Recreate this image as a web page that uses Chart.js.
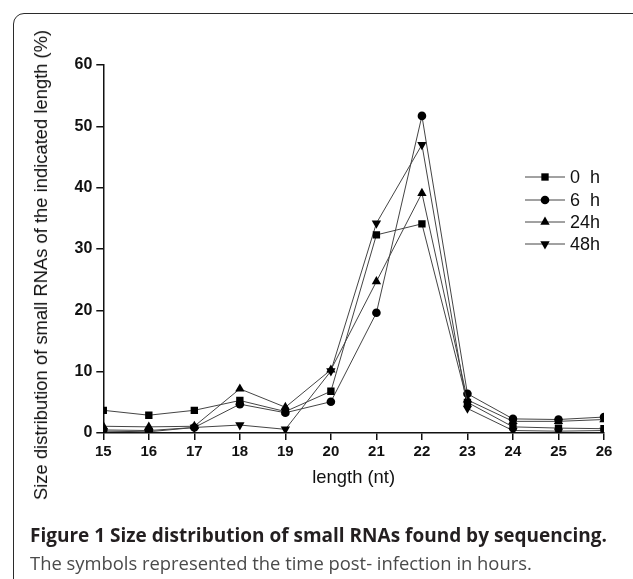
<!DOCTYPE html>
<html>
<head>
<meta charset="utf-8">
<script src="https://cdn.jsdelivr.net/npm/chart.js@4.4.1/dist/chart.umd.min.js"></script>
<style>
  html, body { margin: 0; padding: 0; background: #fff; }
  body { width: 633px; height: 579px; position: relative; overflow: hidden; }
  #frame {
    position: absolute; left: 13px; top: 13px; width: 640px; height: 600px;
    border: 1.5px solid #2b2b2b; border-radius: 11px; box-sizing: border-box;
  }
  #wrap { position: absolute; left: 0; top: 0; width: 633px; height: 579px; }
  #ytitle {
    position: absolute; left: 41px; top: 265px;
    transform: translate(-50%, -50%) rotate(-90deg);
    white-space: nowrap; font: 18.4px "Liberation Sans", Arial, sans-serif; color: #111;
  }
  .cap { position: absolute; left: 30px; white-space: nowrap; font-family: "Open Sans", sans-serif; line-height: 1.362; }
  #cap1 { top: 523px; font-size: 19px; font-weight: 700; color: #231f20; }
  #cap2 { top: 550px; font-size: 18.4px; color: #4a4a4a; }
</style>
</head>
<body>
<div id="frame"></div>
<div id="wrap"><canvas id="chart"></canvas></div>
<div id="ytitle">Size distribution of small RNAs of the indicated length (%)</div>
<div class="cap" id="cap1">Figure 1 Size distribution of small RNAs found by sequencing.</div>
<div class="cap" id="cap2">The symbols represented the time post- infection in hours.</div>
<script>
// ---------- données ----------
const lengths = [15, 16, 17, 18, 19, 20, 21, 22, 23, 24, 25, 26];
const h0  = [3.7, 2.9, 3.7, 5.3, 3.5, 6.8, 32.3, 34.1, 5.0, 1.0, 0.8, 0.7];
const h6  = [0.5, 0.4, 0.9, 4.7, 3.3, 5.1, 19.6, 51.7, 6.4, 2.3, 2.2, 2.6];
const h24 = [1.1, 1.0, 1.1, 7.2, 4.2, 10.3, 24.7, 39.1, 5.4, 1.9, 1.9, 2.2];
const h48 = [0.3, 0.2, 0.9, 1.3, 0.6, 10.1, 34.2, 47.0, 4.0, 0.4, 0.3, 0.4];
const seriesLabels = ['0  h', '6  h', '24h', '48h'];
const yTicks = [0, 10, 20, 30, 40, 50, 60];

const toPts = arr => arr.map((v, i) => ({ x: lengths[i], y: v }));

// style de chaque série
function serie(label, data, style, radius, rot) {
  return {
    label: label,
    data: toPts(data),
    borderColor: '#444',
    borderWidth: 1,
    pointStyle: style,
    pointRadius: radius,
    pointRotation: rot || 0,
    pointBackgroundColor: '#000',
    pointBorderColor: '#000',
    pointBorderWidth: 0,
    tension: 0
  };
}

// légende dessinée à la main : trait + symbole + texte
const legendLines = {
  id: 'legendLines',
  afterDraw(chart) {
    const ctx = chart.ctx;
    const rows = [177, 200, 222, 244];
    ctx.save();
    chart.data.datasets.forEach((ds, i) => {
      const y = rows[i];
      ctx.strokeStyle = '#444';
      ctx.lineWidth = 1;
      ctx.beginPath();
      ctx.moveTo(525, y);
      ctx.lineTo(565, y);
      ctx.stroke();
      ctx.fillStyle = '#000';
      ctx.strokeStyle = '#000';
      Chart.helpers.drawPoint(ctx, {
        pointStyle: ds.pointStyle, radius: ds.pointRadius, rotation: ds.pointRotation, borderWidth: 0
      }, 545, y);
      ctx.fillStyle = '#111';
      ctx.font = '18px "Liberation Sans", Arial, sans-serif';
      ctx.textBaseline = 'middle';
      ctx.textAlign = 'left';
      ctx.fillText(ds.label.replace(/ /g, '\u00a0'), 570, y + 1);
    });
    ctx.restore();
  }
};

new Chart(document.getElementById('chart'), {
  type: 'line',
  data: {
    datasets: [
      serie(seriesLabels[0], h0, 'rect', 5.2),
      serie(seriesLabels[1], h6, 'circle', 4.3),
      serie(seriesLabels[2], h24, 'triangle', 5.4),
      serie(seriesLabels[3], h48, 'triangle', 5.4, 180)
    ]
  },
  options: {
    responsive: true,
    maintainAspectRatio: false,
    animation: false,
    layout: { padding: { left: 0, top: 65, right: 29, bottom: 86 } },
    plugins: { legend: { display: false }, tooltip: { enabled: false } },
    scales: {
      x: {
        type: 'linear',
        min: 15, max: 26,
        afterFit: s => { s.height = 60; },
        afterBuildTicks: s => { s.ticks = lengths.map(v => ({ value: v })); },
        border: { color: '#111', width: 1.5 },
        grid: { drawOnChartArea: false, color: '#111', tickLength: 7, lineWidth: 1.5 },
        ticks: { color: '#111', padding: 3, font: { family: '"Liberation Sans", Arial', size: 15, weight: 'bold' }, maxRotation: 0 },
        title: {
          display: true, text: 'length (nt)', color: '#111',
          font: { family: '"Liberation Sans", Arial', size: 18.4 }, padding: { top: 1 }
        }
      },
      y: {
        min: 0, max: 60,
        afterFit: s => { s.width = 103.3; },
        afterBuildTicks: s => { s.ticks = yTicks.map(v => ({ value: v })); },
        border: { color: '#111', width: 1.5 },
        grid: { drawOnChartArea: false, color: '#111', tickLength: 7, lineWidth: 1.5 },
        ticks: { color: '#111', padding: 4, font: { family: '"Liberation Sans", Arial', size: 16, weight: 'bold' } }
      }
    }
  },
  plugins: [legendLines]
});
</script>
</body>
</html>
